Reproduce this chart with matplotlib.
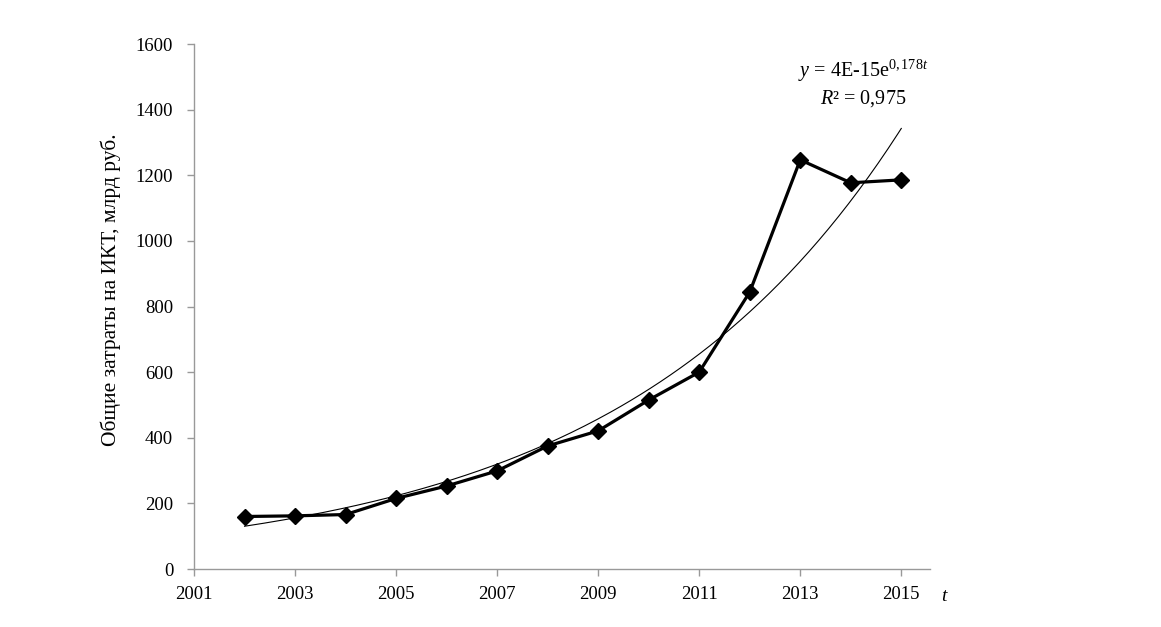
import numpy as np
import matplotlib.pyplot as plt

plt.rcParams['font.family'] = ['Liberation Serif', 'DejaVu Serif']
plt.rcParams['mathtext.fontset'] = 'custom'
plt.rcParams['mathtext.rm'] = 'Liberation Serif'
plt.rcParams['mathtext.it'] = 'Liberation Serif:italic'

years = [2002, 2003, 2004, 2005, 2006, 2007, 2008, 2009, 2010, 2011, 2012, 2013, 2014, 2015]
costs = [160, 162, 166, 215, 253, 299, 375, 421, 515, 600, 844, 1247, 1177, 1186]
x_ticks = [2001, 2003, 2005, 2007, 2009, 2011, 2013, 2015]
y_ticks = [0, 200, 400, 600, 800, 1000, 1200, 1400, 1600]

# exponential trend, fitted like Excel does (log-linear)
t = np.array(years, dtype=float)
b, ln_a = np.polyfit(t - t[0], np.log(costs), 1)
t_fit = np.linspace(t[0], t[-1], 200)
y_fit = np.exp(ln_a + b * (t_fit - t[0]))

fig = plt.figure(figsize=(11.61, 6.27), dpi=100)
ax = fig.add_axes([0.1671, 0.0925, 0.634, 0.8373])

ax.plot(t_fit, y_fit, color='black', lw=0.8)
ax.plot(years, costs, color='black', lw=2.3, marker='D', markersize=8.5)

ax.set_xlim(2001, 2015.57)
ax.set_ylim(0, 1600)
ax.set_xticks(x_ticks)
ax.set_yticks(y_ticks)
for s in ['top', 'right']:
    ax.spines[s].set_visible(False)
for s in ['left', 'bottom']:
    ax.spines[s].set_color('#999999')
    ax.spines[s].set_linewidth(1.0)
ax.tick_params(axis='both', colors='#999999', length=5, width=1.0,
               labelcolor='black', labelsize=13.5)
ax.tick_params(axis='y', pad=10)
ax.tick_params(axis='x', pad=7)

fig.text(111 / 1161, 1 - 290 / 627, 'Общие затраты на ИКТ, млрд руб.', fontsize=15.5,
         rotation=90, ha='center', va='center')
fig.text(941 / 1161, 1 - 601 / 627, 't', fontsize=14, style='italic')

ax.text(2014.25, 1500, r'$y$ = 4E-15e$^{0,178t}$', fontsize=14.5, ha='center', va='baseline')
ax.text(2014.25, 1420, r'$R$² = 0,975', fontsize=14.5, ha='center', va='baseline')

fig.savefig('out.png', dpi=100)
